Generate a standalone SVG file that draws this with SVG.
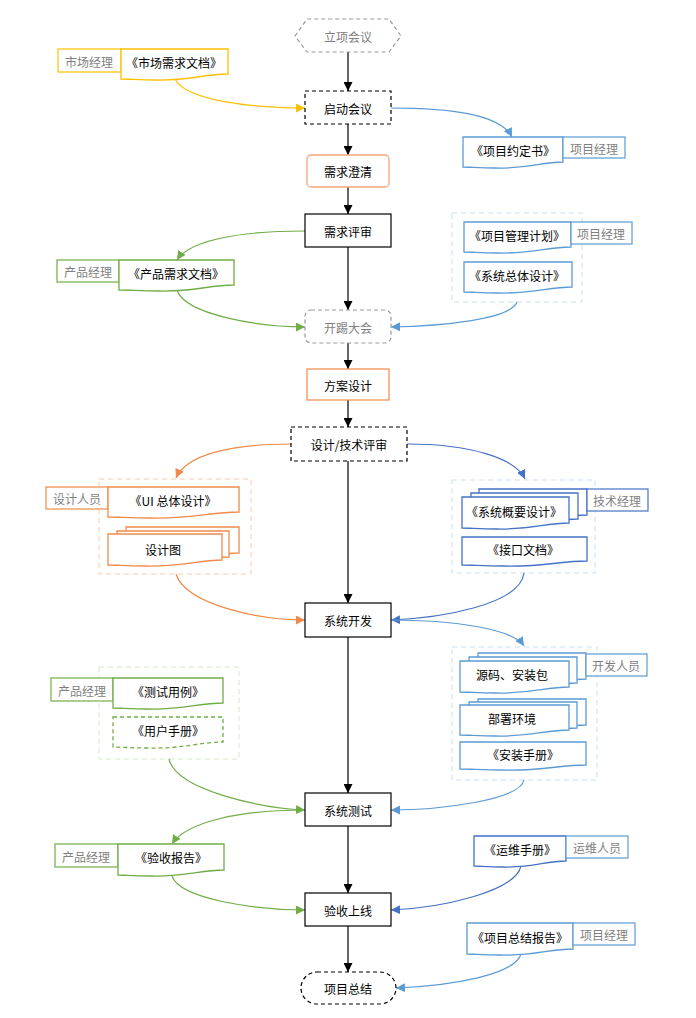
<svg xmlns="http://www.w3.org/2000/svg" width="696" height="1018" viewBox="0 0 696 1018">
<style>
text{font-family:"Noto Sans CJK SC","Liberation Sans",sans-serif;font-size:12px;text-anchor:middle;dominant-baseline:central;fill:#000}
.g{fill:#7f7f7f}
.n{fill:#fff;stroke:#000;stroke-width:1.2}
.d{stroke-dasharray:4 3}
.doc{fill:#fff;stroke-width:1.3}
.lb{fill:#fff;stroke-width:1.2}
.ct{fill:none;stroke-width:1;stroke-dasharray:5 4}
.c{fill:none;stroke-width:1.2}
.Y{stroke:#ffc000}.O{stroke:#ef8a4a}.Gr{stroke:#70ad47}.B{stroke:#5b9bd5}.DB{stroke:#4472c4}.K{stroke:#000}
</style>
<defs>
<marker id="mK" viewBox="0 0 10 10" refX="10" refY="5" markerWidth="9" markerHeight="9" markerUnits="userSpaceOnUse" orient="auto"><path d="M0,0L10,5L0,10z" fill="#000"/></marker>
<marker id="mY" viewBox="0 0 10 10" refX="10" refY="5" markerWidth="9" markerHeight="9" markerUnits="userSpaceOnUse" orient="auto"><path d="M0,0L10,5L0,10z" fill="#ffc000"/></marker>
<marker id="mO" viewBox="0 0 10 10" refX="10" refY="5" markerWidth="9" markerHeight="9" markerUnits="userSpaceOnUse" orient="auto"><path d="M0,0L10,5L0,10z" fill="#ef8a4a"/></marker>
<marker id="mG" viewBox="0 0 10 10" refX="10" refY="5" markerWidth="9" markerHeight="9" markerUnits="userSpaceOnUse" orient="auto"><path d="M0,0L10,5L0,10z" fill="#70ad47"/></marker>
<marker id="mB" viewBox="0 0 10 10" refX="10" refY="5" markerWidth="9" markerHeight="9" markerUnits="userSpaceOnUse" orient="auto"><path d="M0,0L10,5L0,10z" fill="#5b9bd5"/></marker>
<marker id="mD" viewBox="0 0 10 10" refX="10" refY="5" markerWidth="9" markerHeight="9" markerUnits="userSpaceOnUse" orient="auto"><path d="M0,0L10,5L0,10z" fill="#4472c4"/></marker>
</defs>

<!-- containers -->
<g id="containers">
<rect class="ct" x="452" y="213" width="130" height="89" stroke="#c9ddf1"/>
<rect class="ct" x="99" y="479" width="152" height="95" stroke="#f8cbad"/>
<rect class="ct" x="452" y="480" width="143" height="93" stroke="#c9ddf1"/>
<rect class="ct" x="99" y="667" width="140" height="92" stroke="#d5e8c8"/>
<rect class="ct" x="452" y="647" width="145" height="133" stroke="#c9ddf1"/>
</g>

<!-- connectors -->
<g id="connectors">
<path class="c K" d="M348,52V91" marker-end="url(#mK)"/>
<path class="c K" d="M348,124V155" marker-end="url(#mK)"/>
<path class="c K" d="M348,187V214" marker-end="url(#mK)"/>
<path class="c K" d="M348,247V310" marker-end="url(#mK)"/>
<path class="c K" d="M348,343V369" marker-end="url(#mK)"/>
<path class="c K" d="M348,400V427" marker-end="url(#mK)"/>
<path class="c K" d="M348,461V603" marker-end="url(#mK)"/>
<path class="c K" d="M348,637V793" marker-end="url(#mK)"/>
<path class="c K" d="M348,826V893" marker-end="url(#mK)"/>
<path class="c K" d="M348,926V972" marker-end="url(#mK)"/>
<path class="c Y" d="M175,79C185,100 250,108 305,108" marker-end="url(#mY)"/>
<path class="c B" d="M391,108C450,108 500,114 512,137" marker-end="url(#mB)"/>
<path class="c Gr" d="M305,231C240,231 190,240 177,260" marker-end="url(#mG)"/>
<path class="c Gr" d="M177,290C185,315 260,327 305,327" marker-end="url(#mG)"/>
<path class="c B" d="M517,302C510,320 440,326 391,327" marker-end="url(#mB)"/>
<path class="c O" d="M291,444C230,444 186,455 176,478" marker-end="url(#mO)"/>
<path class="c O" d="M176,574C186,605 260,620 305,620" marker-end="url(#mO)"/>
<path class="c DB" d="M407,444C470,444 515,458 525,479" marker-end="url(#mD)"/>
<path class="c DB" d="M524,573C520,605 440,618 391,620" marker-end="url(#mD)"/>
<path class="c B" d="M391,620C450,620 512,628 524,646" marker-end="url(#mB)"/>
<path class="c B" d="M524,780C520,800 440,810 391,810" marker-end="url(#mB)"/>
<path class="c Gr" d="M169,759C176,790 260,808 305,810" marker-end="url(#mG)"/>
<path class="c Gr" d="M305,810C240,810 186,822 172,844" marker-end="url(#mG)"/>
<path class="c Gr" d="M172,876C180,900 260,910 305,910" marker-end="url(#mG)"/>
<path class="c DB" d="M521,866C515,892 440,908 391,910" marker-end="url(#mD)"/>
<path class="c B" d="M521,954C515,975 450,986 396,988" marker-end="url(#mB)"/>
</g>

<!-- main flow nodes -->
<g id="lixiang"><path d="M295,36L307,19H389L401,36L389,52H307Z" fill="#fff" stroke="#999" stroke-width="1.2" class="d"/><text x="348" y="36" class="g">立项会议</text></g>
<g id="qidong"><rect class="n d" x="305" y="91" width="86" height="33"/><text x="348" y="108">启动会议</text></g>
<g id="chengqing"><rect x="307" y="155" width="82" height="32" rx="4" fill="#fff" stroke="#f4a77a" stroke-width="1.3"/><text x="348" y="171">需求澄清</text></g>
<g id="pingshen"><rect class="n" x="305" y="214" width="86" height="33"/><text x="348" y="231">需求评审</text></g>
<g id="kaiti"><rect x="305" y="310" width="86" height="33" rx="6" fill="#fff" stroke="#999" stroke-width="1.2" class="d"/><text x="348" y="327" class="g">开踢大会</text></g>
<g id="fangan"><rect x="307" y="369" width="82" height="31" fill="#fff" stroke="#ef8a4a" stroke-width="1.2"/><text x="348" y="385">方案设计</text></g>
<g id="jishu"><rect class="n d" x="291" y="427" width="116" height="34"/><text x="349" y="444">设计/技术评审</text></g>
<g id="kaifa"><rect class="n" x="305" y="603" width="86" height="34"/><text x="348" y="620">系统开发</text></g>
<g id="ceshi"><rect class="n" x="305" y="793" width="86" height="33"/><text x="348" y="810">系统测试</text></g>
<g id="shangxian"><rect class="n" x="305" y="893" width="86" height="33"/><text x="348" y="910">验收上线</text></g>
<g id="zongjie"><rect class="n d" x="301" y="972" width="95" height="32" rx="16"/><text x="348" y="988">项目总结</text></g>

<!-- documents -->
<g id="doc-shichang">
<rect class="lb Y" x="58" y="49" width="63" height="23"/><text x="89" y="61" class="g">市场经理</text>
<path class="doc Y" d="M121,49H228V74C203,74 190,81 155,80C140,80 130,79 121,79Z"/><text x="174" y="62">《市场需求文档》</text>
</g>
<g id="doc-yueding">
<path class="doc B" d="M463,137H563V162C540,162 530,169 495,168C480,168 470,167 463,167Z"/><text x="513" y="150">《项目约定书》</text>
<rect class="lb B" x="563" y="137" width="62" height="21"/><text x="594" y="148" class="g">项目经理</text>
</g>
<g id="doc-chanpin">
<rect class="lb Gr" x="57" y="260" width="62" height="22"/><text x="88" y="271" class="g">产品经理</text>
<path class="doc Gr" d="M119,260H234V285C208,285 195,292 158,291C142,291 130,290 119,290Z"/><text x="176" y="273">《产品需求文档》</text>
</g>
<g id="doc-guanli">
<path class="doc B" d="M464,222H571V247C547,247 533,254 498,253C482,253 472,252 464,252Z"/><text x="517" y="235">《项目管理计划》</text>
<rect class="lb B" x="571" y="222" width="61" height="22"/><text x="601" y="233" class="g">项目经理</text>
</g>
<g id="doc-zongti">
<path class="doc B" d="M464,262H572V287C548,287 534,294 498,293C482,293 472,292 464,292Z"/><text x="517" y="275">《系统总体设计》</text>
</g>
<g id="doc-ui">
<rect class="lb O" x="46" y="487" width="62" height="22"/><text x="77" y="498" class="g">设计人员</text>
<path class="doc O" d="M108,487H239V512C210,512 194,519 150,518C132,518 118,517 108,517Z"/><text x="173" y="500">《UI 总体设计》</text>
</g>
<g id="doc-sheji">
<path class="doc O" d="M126,527H239V553C215,553 200,560 163,559C146,559 135,558 126,558Z"/>
<path class="doc O" d="M117,531H229V557C205,557 190,564 153,563C136,563 126,562 117,562Z"/>
<path class="doc O" d="M108,534H222V560C198,560 183,567 145,566C128,566 117,565 108,565Z"/><text x="163" y="549">设计图</text>
</g>
<g id="doc-gaiyao">
<path class="doc DB" d="M479,489H587V515C563,515 549,522 513,521C497,521 487,520 479,520Z"/>
<path class="doc DB" d="M471,493H578V519C554,519 540,526 505,525C489,525 479,524 471,524Z"/>
<path class="doc DB" d="M462,497H569V523C545,523 531,530 496,529C480,529 470,528 462,528Z"/><text x="514" y="511">《系统概要设计》</text>
<rect class="lb DB" x="587" y="489" width="61" height="22"/><text x="617" y="500" class="g">技术经理</text>
</g>
<g id="doc-jiekou">
<path class="doc DB" d="M462,537H587V561C560,561 544,567 503,566C485,566 472,565 462,565Z"/><text x="523" y="549">《接口文档》</text>
</g>
<g id="doc-yuanma">
<path class="doc B" d="M478,653H586V679C562,679 548,686 512,685C496,685 486,684 478,684Z"/>
<path class="doc B" d="M469,657H577V683C553,683 539,690 503,689C487,689 477,688 469,688Z"/>
<path class="doc B" d="M460,661H569V687C545,687 531,694 495,693C479,693 469,692 460,692Z"/><text x="512" y="674">源码、安装包</text>
<rect class="lb B" x="586" y="654" width="61" height="22"/><text x="616" y="665" class="g">开发人员</text>
</g>
<g id="doc-bushu">
<path class="doc B" d="M478,699H586V725C562,725 548,732 512,731C496,731 486,730 478,730Z"/>
<path class="doc B" d="M469,702H577V728C553,728 539,735 503,734C487,734 477,733 469,733Z"/>
<path class="doc B" d="M460,705H569V730C545,730 531,737 495,736C479,736 469,735 460,735Z"/><text x="512" y="718">部署环境</text>
</g>
<g id="doc-anzhuang">
<path class="doc B" d="M460,742H586V765C559,765 543,771 502,770C484,770 471,769 460,769Z"/><text x="523" y="754">《安装手册》</text>
</g>
<g id="doc-yongli">
<rect class="lb Gr" x="51" y="678" width="62" height="23"/><text x="82" y="690" class="g">产品经理</text>
<path class="doc Gr" d="M113,678H223V703C198,703 184,710 147,709C131,709 121,708 113,708Z"/><text x="168" y="691">《测试用例》</text>
</g>
<g id="doc-shouce">
<path class="doc Gr d" d="M113,717H223V742C198,742 184,749 147,748C131,748 121,747 113,747Z"/><text x="168" y="730">《用户手册》</text>
</g>
<g id="doc-yanshou">
<rect class="lb Gr" x="55" y="844" width="63" height="23"/><text x="86" y="856" class="g">产品经理</text>
<path class="doc Gr" d="M118,844H224V870C200,870 186,877 150,876C134,876 125,875 118,875Z"/><text x="171" y="857">《验收报告》</text>
</g>
<g id="doc-yunwei">
<path class="doc DB" d="M474,836H566V861C545,861 533,868 502,867C488,867 480,866 474,866Z"/><text x="520" y="849">《运维手册》</text>
<rect class="lb B" x="566" y="836" width="62" height="22"/><text x="597" y="847" class="g">运维人员</text>
</g>
<g id="doc-zongjie">
<path class="doc B" d="M467,923H573V949C549,949 535,956 500,955C484,955 474,954 467,954Z"/><text x="520" y="937">《项目总结报告》</text>
<rect class="lb B" x="573" y="923" width="62" height="22"/><text x="604" y="934" class="g">项目经理</text>
</g>
</svg>
